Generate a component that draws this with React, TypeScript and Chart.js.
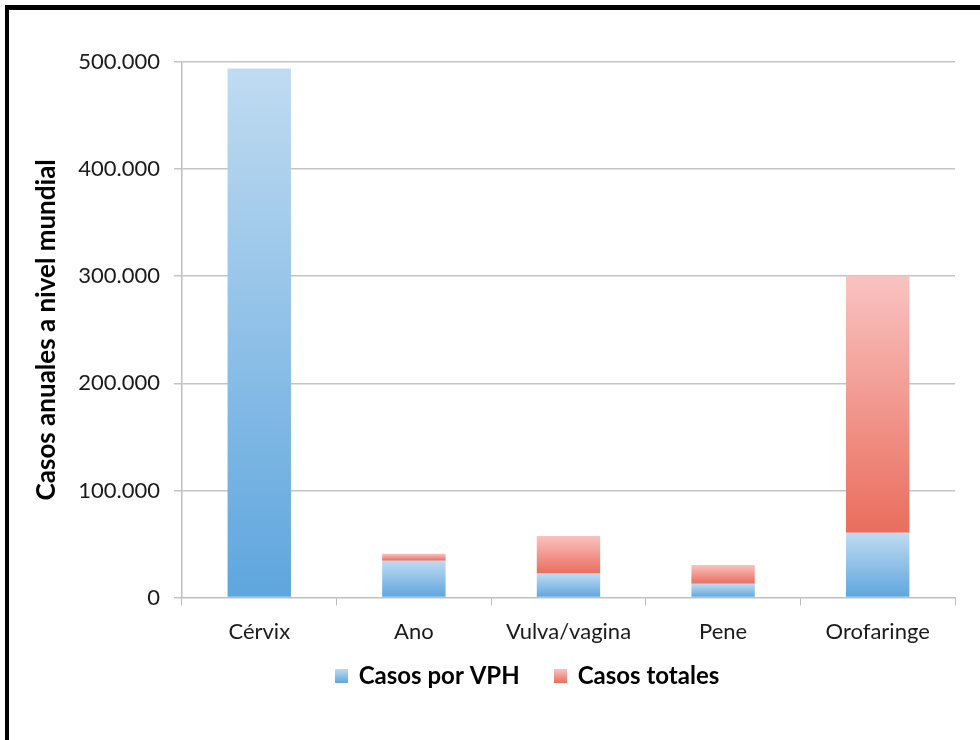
import React, { useEffect, useRef } from "react";
import { Chart, registerables } from "chart.js";

Chart.register(...registerables);

const categories = ["Cérvix", "Ano", "Vulva/vagina", "Pene", "Orofaringe"];
const vphCases = [494000, 34500, 22500, 13000, 60500];
const totalCases = [494000, 41000, 57500, 30500, 300500];
const yTicks = [0, 100000, 200000, 300000, 400000, 500000];
const seriesNames = ["Casos por VPH", "Casos totales"];

const blueTop = "#C0DBF1";
const blueBottom = "#5EA6DE";
const redTop = "#F9C3C1";
const redBottom = "#EA6D5D";

function fmt(v: number): string {
  return String(Math.round(v)).replace(/\B(?=(\d{3})+(?!\d))/g, ".");
}

function legendSwatch(top: string, bottom: string): HTMLCanvasElement {
  const c = document.createElement("canvas");
  c.width = 13;
  c.height = 14;
  const g = c.getContext("2d")!;
  const gr = g.createLinearGradient(0, 0, 0, 14);
  gr.addColorStop(0, top);
  gr.addColorStop(1, bottom);
  g.fillStyle = gr;
  g.fillRect(0, 0, 13, 14);
  return c;
}

// moves the legend after layout so it sits where the reference has it
const legendShift = {
  id: "legendShift",
  afterLayout(chart: any) {
    const lg = chart.legend;
    if (!lg) return;
    lg.top -= 30;
    lg.bottom -= 30;
    lg.left += 35;
    lg.right += 35;
  },
};

export default function App() {
  const ref = useRef<HTMLCanvasElement | null>(null);

  useEffect(() => {
    if (!ref.current) return;
    const remainder = totalCases.map((t, i) => t - vphCases[i]);

    const grad = (ctx: any, lowVals: number[] | null, highVals: number[], top: string, bottom: string, fallback: string) => {
      const chart = ctx.chart;
      if (!chart.chartArea || ctx.type !== "data") return fallback;
      const y = chart.scales.y;
      const i = ctx.dataIndex;
      const pTop = y.getPixelForValue(highVals[i]);
      const pBot = y.getPixelForValue(lowVals ? lowVals[i] : 0);
      if (!isFinite(pTop) || !isFinite(pBot) || pTop === pBot) return fallback;
      const g = chart.ctx.createLinearGradient(0, pTop, 0, pBot);
      g.addColorStop(0, top);
      g.addColorStop(1, bottom);
      return g;
    };

    const swBlue = legendSwatch(blueTop, blueBottom);
    const swRed = legendSwatch(redTop, redBottom);

    const chart = new Chart(ref.current, {
      type: "bar",
      plugins: [legendShift],
      data: {
        labels: categories,
        datasets: [
          {
            label: seriesNames[0],
            data: vphCases,
            backgroundColor: (ctx: any) => grad(ctx, null, vphCases, blueTop, blueBottom, "#8DC0E8"),
            borderWidth: 0,
            barPercentage: 0.82,
            categoryPercentage: 0.5,
          },
          {
            label: seriesNames[1],
            data: remainder,
            backgroundColor: (ctx: any) => grad(ctx, vphCases, totalCases, redTop, redBottom, "#F29A90"),
            borderWidth: 0,
            barPercentage: 0.82,
            categoryPercentage: 0.5,
          },
        ],
      },
      options: {
        responsive: false,
        animation: false,
        layout: { padding: { left: 31, right: 25, top: 62, bottom: 12 } },
        scales: {
          x: {
            stacked: true,
            grid: {
              drawOnChartArea: false,
              drawTicks: true,
              tickLength: 8,
              color: "#BFBFBF",
              offset: true,
            },
            border: { color: "#BFBFBF", width: 1 },
            ticks: {
              color: "#1a1a1a",
              font: { family: "Lato", size: 22 },
              padding: 13,
              maxRotation: 0,
            },
          },
          y: {
            stacked: true,
            min: 0,
            max: 500000,
            afterBuildTicks: (axis: any) => {
              axis.ticks = yTicks.map((v) => ({ value: v }));
            },
            grid: {
              color: "#C4C4C4",
              lineWidth: 1.5,
              drawTicks: true,
              tickLength: 8,
            },
            border: { color: "#BFBFBF", width: 1.5 },
            ticks: {
              color: "#1a1a1a",
              font: { family: "Lato", size: 22 },
              padding: 14,
              callback: (v: any) => fmt(Number(v)),
            },
            title: {
              display: true,
              text: "Casos anuales a nivel mundial",
              color: "#000",
              font: { family: "Lato", size: 26, weight: "bold" },
              padding: { top: 0, bottom: 2 },
            },
          },
        },
        plugins: {
          tooltip: { enabled: false },
          legend: {
            position: "bottom",
            labels: {
              color: "#000",
              font: { family: "Lato", size: 24, weight: "bold" },
              usePointStyle: true,
              boxWidth: 10,
              padding: 36,
              generateLabels: () => [
                { text: seriesNames[0], pointStyle: swBlue, fillStyle: "#8DC0E8", strokeStyle: "transparent", lineWidth: 0, datasetIndex: 0, hidden: false, fontColor: "#000" } as any,
                { text: seriesNames[1], pointStyle: swRed, fillStyle: "#F29A90", strokeStyle: "transparent", lineWidth: 0, datasetIndex: 1, hidden: false, fontColor: "#000" } as any,
              ],
            },
          },
        },
      },
    });
    return () => chart.destroy();
  }, []);

  return (
    <>
      <div
        style={{
          position: "absolute",
          left: 0,
          top: 0,
          width: 980,
          height: 740,
          background: "#fff",
          overflow: "hidden",
        }}
      >
        <div
          style={{
            position: "absolute",
            left: 5,
            top: 5,
            width: 1000,
            height: 800,
            borderLeft: "4px solid #000",
            borderTop: "5px solid #000",
          }}
        />
        <canvas
          ref={ref}
          width={980}
          height={740}
          style={{ position: "absolute", left: 0, top: 0, width: 980, height: 740 }}
        />
      </div>
    </>
  );
}
